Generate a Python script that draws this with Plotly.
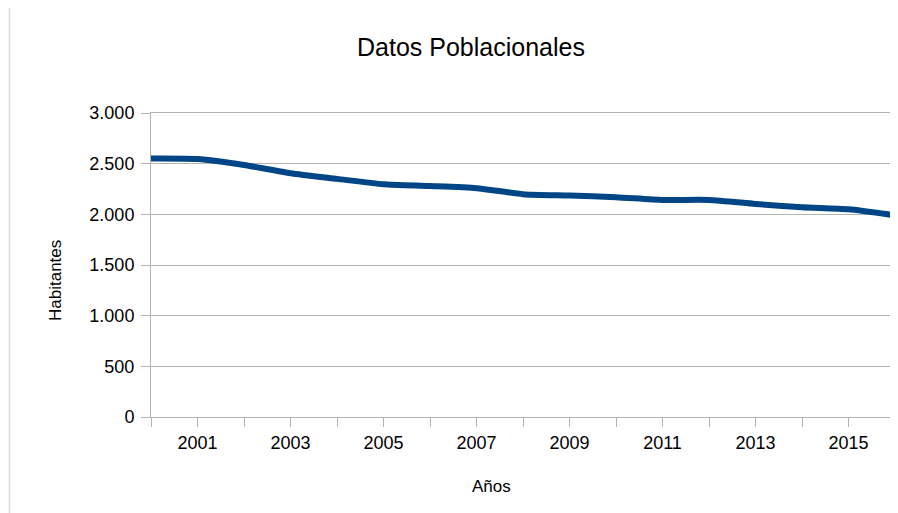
import plotly.graph_objects as go

years = list(range(2000, 2017))
habitantes = [2550, 2545, 2487, 2405, 2350, 2297, 2280, 2258, 2199, 2185,
              2169, 2142, 2142, 2103, 2070, 2050, 1990]
x_tick_labels = [str(y) if y % 2 == 1 else "" for y in years]
y_tick_vals = [0, 500, 1000, 1500, 2000, 2500, 3000]

title_text = "Datos Poblacionales"
x_title = "Años"
y_title = "Habitantes"

# page body has an 8px default margin; compensate so the plot sits where the reference does
OFF = 8
W, H = 898 - OFF, 513 - OFF
L, R, T, B = 151 - OFF, 895 - OFF, 113 - OFF, 417 - OFF

fig = go.Figure()
fig.add_trace(go.Scatter(
    x=years, y=habitantes, mode="lines",
    line=dict(color="#004586", width=6, shape="spline", smoothing=0.6),
    showlegend=False, hoverinfo="x+y",
))

grid = "#b3b3b3"
font = "Liberation Sans, Arial, sans-serif"

fig.update_layout(
    width=W, height=H,
    margin=dict(l=L, r=W - R, t=T, b=H - B, pad=0),
    paper_bgcolor="white", plot_bgcolor="white",
    separators=",.",
    font=dict(family=font, color="#000000"),
    title=dict(text=title_text, x=(471 - OFF) / W, xanchor="center",
               y=1 - (47 - OFF) / H, yanchor="middle", font=dict(size=25)),
    xaxis=dict(range=[2000, 2016], tickvals=years, ticktext=x_tick_labels,
               ticks="outside", ticklen=9, tickcolor=grid, tickwidth=1,
               showline=True, linecolor=grid, linewidth=1, mirror=True,
               showgrid=False, zeroline=False, tickfont=dict(size=18),
               fixedrange=True),
    yaxis=dict(range=[0, 3000], tickvals=y_tick_vals, tickformat=",d",
               ticks="outside", ticklen=9, tickcolor=grid, tickwidth=1,
               showline=True, linecolor=grid, linewidth=1,
               showgrid=True, gridcolor=grid, gridwidth=1, zeroline=False,
               tickfont=dict(size=18), ticklabelstandoff=3, fixedrange=True),
    annotations=[
        dict(text=x_title, xref="paper", yref="paper",
             x=(491 - OFF - L) / (R - L), y=-(486 - OFF - B) / (B - T),
             xanchor="center", yanchor="middle", showarrow=False,
             font=dict(size=17)),
        dict(text=y_title, xref="paper", yref="paper",
             x=(55 - OFF - L) / (R - L), y=(B - (281 - OFF)) / (B - T),
             xanchor="center", yanchor="middle", showarrow=False,
             textangle=-90, font=dict(size=17)),
    ],
    shapes=[
        dict(type="rect", xref="paper", yref="paper", layer="below",
             x0=(9.5 - OFF - L) / (R - L), x1=(905 - OFF - L) / (R - L),
             y0=-(520 - OFF - B) / (B - T), y1=1 + (T - (7 - OFF)) / (B - T),
             line=dict(color="#d9d9d9", width=1.5)),
    ],
)

fig.write_html("out.html")
